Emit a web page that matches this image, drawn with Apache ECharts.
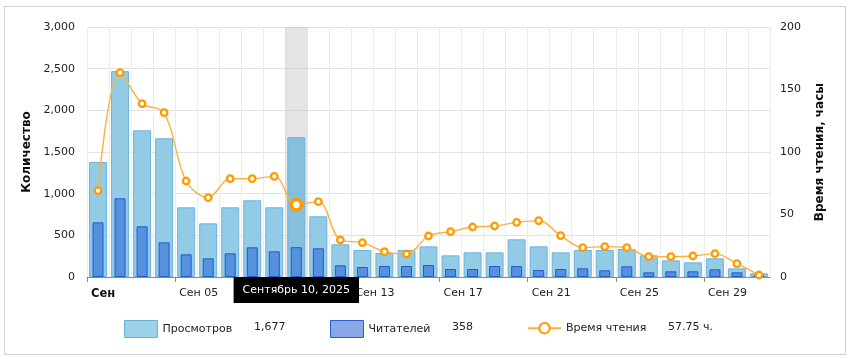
<!DOCTYPE html>
<html>
<head>
<meta charset="utf-8">
<script src="https://cdn.jsdelivr.net/npm/echarts@6/dist/echarts.min.js"></script>
<style>
  html, body { margin:0; padding:0; background:#fff; }
  #frame { position:absolute; left:4px; top:6px; width:840px; height:347px; border:1px solid #d2d2d2; }
  #chart { position:absolute; left:0; top:0; width:850px; height:359px; }
</style>
</head>
<body>
<div id="frame"></div>
<div id="chart"></div>
<script>
const dates = ['2025-09-01','2025-09-02','2025-09-03','2025-09-04','2025-09-05','2025-09-06','2025-09-07','2025-09-08','2025-09-09','2025-09-10',
  '2025-09-11','2025-09-12','2025-09-13','2025-09-14','2025-09-15','2025-09-16','2025-09-17','2025-09-18','2025-09-19','2025-09-20',
  '2025-09-21','2025-09-22','2025-09-23','2025-09-24','2025-09-25','2025-09-26','2025-09-27','2025-09-28','2025-09-29','2025-09-30','2025-10-01'];
const boundaryDates = dates.concat(['2025-10-02']);
const views = [1380, 2470, 1760, 1665, 836, 644, 836, 920, 836, 1677, 728, 392, 324, 288, 324, 368, 260, 296, 296, 452, 368, 296, 324, 324, 336, 260, 200, 176, 224, 104, 44];
const readers = [656, 944, 608, 416, 272, 224, 284, 356, 308, 358, 344, 140, 120, 132, 132, 144, 96, 96, 132, 132, 84, 96, 104, 80, 128, 56, 68, 68, 92, 56, 20];
const hours = [69.1, 163.5, 138.7, 131.5, 76.8, 63.5, 78.7, 78.7, 80.5, 57.75, 60.3, 29.6, 27.5, 20.3, 18.4, 32.8, 36.3, 40, 40.8, 43.7, 45.1, 33.1, 23.5, 24.3, 23.5, 16.3, 16.3, 16.8, 18.7, 10.7, 1.6];
const leftTicks = [0, 500, 1000, 1500, 2000, 2500, 3000];
const rightTicks = [0, 50, 100, 150, 200];
const monthShort = {'09':'Сен','10':'Окт'};
const monthFull = {'09':'Сентябрь','10':'Октябрь'};
const seriesNames = ['Просмотров', 'Читателей', 'Время чтения'];
const selectedIndex = 9;

const FONT = 'DejaVu Sans';
const LEG_FONT = 'DejaVu Sans';
const AXIS_FS = 11;
const LEG_FS = 11;
function fmtNum(v){ return Number(v).toLocaleString('en-US'); }

const chart = echarts.init(document.getElementById('chart'), null, {renderer:'canvas'});
const legendValues = [fmtNum(views[selectedIndex]), fmtNum(readers[selectedIndex]), hours[selectedIndex] + ' ч.'];
const legendLeft = [124, 330, 527];
const legendValueLeft = [254, 452, 668];
const legendIconStyle = [
  {color: '#9dd0ea', borderColor: '#6cb2d8', borderWidth: 1},
  {color: '#8aa8e8', borderColor: '#2b5cc8', borderWidth: 1},
  null
];

const legends = seriesNames.map(function(name, i){
  const item = {name: name};
  if (legendIconStyle[i]) { item.itemStyle = legendIconStyle[i]; item.icon = 'rect'; }
  const isLine = !legendIconStyle[i];
  return {
    left: legendLeft[i], top: isLine ? 322 : 320, padding: 0, itemWidth: 33, itemHeight: isLine ? 13 : 17, itemGap: 0,
    data: [item],
    textStyle: {fontFamily: LEG_FONT, fontSize: LEG_FS, color: '#222'}
  };
});
const legendTexts = legendValues.map(function(v, i){
  return {type: 'text', left: legendValueLeft[i], top: 322, style: {text: v, fontFamily: LEG_FONT, fontSize: LEG_FS, fill: '#222'}};
});

const option = {
  animation: false,
  backgroundColor: 'transparent',
  grid: { left: 87, right: 80, top: 27, bottom: 82, containLabel: false },
  legend: legends,
  graphic: legendTexts,
  xAxis: [
    {
      type: 'category', data: dates, position: 'bottom', boundaryGap: true,
      axisLine: {show: true, lineStyle: {color: '#8a8a8a', width: 1}},
      axisTick: {show: false},
      axisLabel: {show: false},
      splitLine: {show: true, interval: 0, lineStyle: {color: '#ececec', width: 1}},
      axisPointer: {
        show: true, type: 'shadow', value: dates[selectedIndex], status: 'show', triggerTooltip: false, z: 1,
        shadowStyle: {color: 'rgba(190,190,190,0.42)'},
        label: {
          show: true, backgroundColor: '#000', color: '#fff', padding: [8, 9, 7, 9], margin: 0,
          fontFamily: FONT, fontSize: AXIS_FS, borderRadius: 0,
          formatter: function(p){ const parts = p.value.split('-'); return monthFull[parts[1]] + ' ' + parts[2] + ', ' + parts[0]; }
        }
      }
    },
    {
      type: 'category', data: dates, position: 'bottom', boundaryGap: true, show: false
    },
    {
      type: 'category', data: boundaryDates, position: 'bottom', boundaryGap: false,
      axisLine: {show: false},
      axisTick: {show: true, interval: 3, length: 5, lineStyle: {color: '#8a8a8a'}},
      splitLine: {show: false},
      axisPointer: {show: false},
      axisLabel: {
        show: true, interval: 3, align: 'left', margin: 11, padding: [0, 0, 0, 4],
        fontFamily: FONT, fontSize: AXIS_FS, color: '#222',
        formatter: function(v){ const parts = v.split('-'); return parts[2] === '01' ? '{b|' + monthShort[parts[1]] + '}' : monthShort[parts[1]] + ' ' + parts[2]; },
        rich: {b: {fontWeight: 'bold', fontFamily: FONT, fontSize: AXIS_FS + 0.5, color: '#111'}}
      }
    }
  ],
  yAxis: [
    {
      type: 'value', min: leftTicks[0], max: leftTicks[leftTicks.length-1], interval: leftTicks[1]-leftTicks[0],
      name: 'Количество', nameLocation: 'middle', nameGap: 50, nameRotate: 90,
      nameTextStyle: {fontFamily: FONT, fontSize: 12, fontWeight: 'bold', color: '#111'},
      axisLine: {show: false}, axisTick: {show: false},
      axisLabel: {margin: 12, fontFamily: FONT, fontSize: AXIS_FS, color: '#222', formatter: fmtNum},
      splitLine: {show: true, lineStyle: {color: '#e2e2e2'}}
    },
    {
      type: 'value', position: 'right', min: rightTicks[0], max: rightTicks[rightTicks.length-1], interval: rightTicks[1]-rightTicks[0],
      name: 'Время чтения, часы', nameLocation: 'middle', nameGap: 44, nameRotate: 90,
      nameTextStyle: {fontFamily: FONT, fontSize: 12, fontWeight: 'bold', color: '#111'},
      axisLine: {show: false}, axisTick: {show: false},
      axisLabel: {margin: 10, fontFamily: FONT, fontSize: AXIS_FS, color: '#222'},
      splitLine: {show: false}
    }
  ],
  series: [
    {
      name: seriesNames[0], type: 'bar', xAxisIndex: 0, yAxisIndex: 0, barWidth: 18,
      itemStyle: {color: '#93cbe6', borderColor: '#6db4dc', borderWidth: 1},
      data: views.map(function(v, i){ return i === selectedIndex ? {value: v, itemStyle: {color: '#86bfdc'}} : v; })
    },
    {
      name: seriesNames[1], type: 'bar', xAxisIndex: 1, yAxisIndex: 0, barWidth: 11,
      itemStyle: {color: '#5591dc', borderColor: '#1d5ccf', borderWidth: 1},
      data: readers
    },
    {
      name: seriesNames[2], type: 'line', xAxisIndex: 0, yAxisIndex: 1, smooth: 0.35,
      symbol: 'circle', symbolSize: 6.5, showAllSymbol: true,
      lineStyle: {color: '#fbb040', width: 1.4},
      itemStyle: {color: '#fff', borderColor: '#ff9a00', borderWidth: 2.3},
      z: 5,
      data: hours.map(function(v, i){ return i === selectedIndex ? {value: v, symbolSize: 10.5, itemStyle: {borderWidth: 3.8}} : v; })
    }
  ]
};
chart.setOption(option);
</script>
</body>
</html>
